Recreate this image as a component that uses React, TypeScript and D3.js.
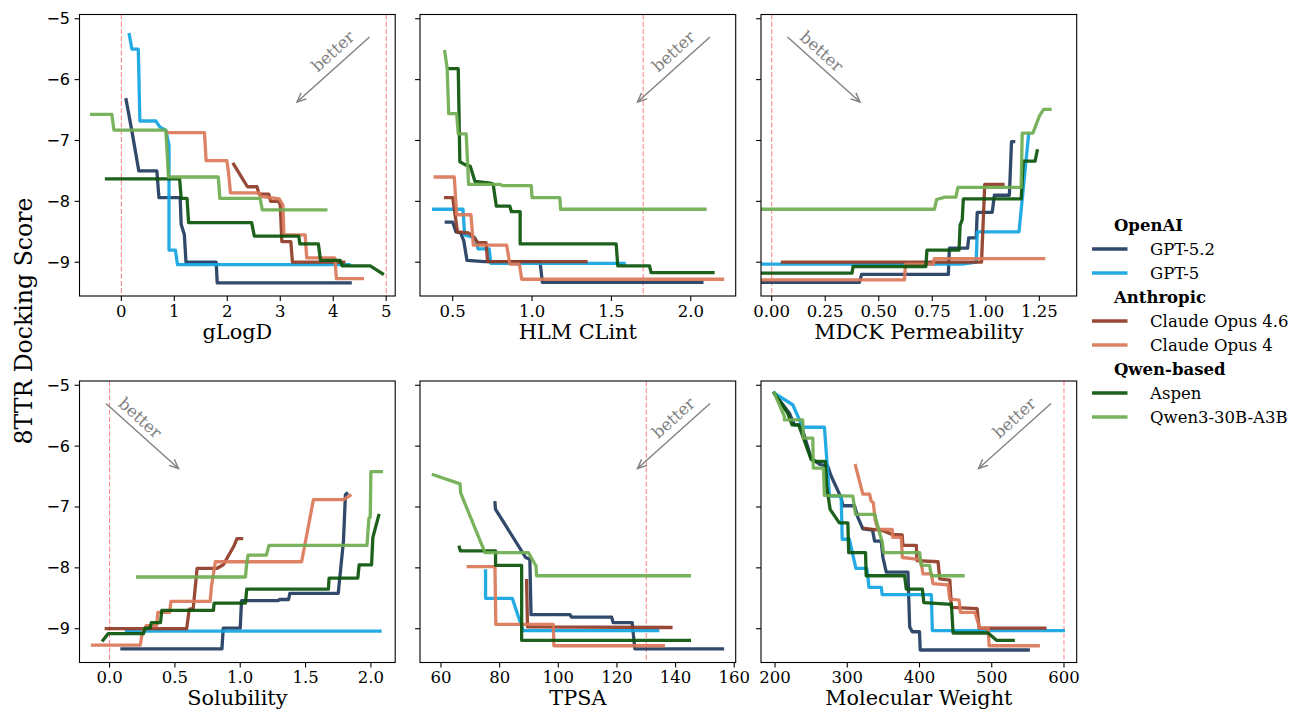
import React from 'react';
import * as d3 from 'd3';

type Pt = [number, number];

// ---------------- data ----------------
const SERIES_NAMES = ['GPT-5.2', 'GPT-5', 'Claude Opus 4.6', 'Claude Opus 4', 'Aspen', 'Qwen3-30B-A3B'];
const SERIES_COLORS = ['#1f3b5e', '#12a4e2', '#8f3b25', '#da7758', '#0a540a', '#6fac4f'];
const LEGEND_GROUPS = ['OpenAI', 'Anthropic', 'Qwen-based'];

const PANEL_LABELS = ['gLogD', 'HLM CLint', 'MDCK Permeability', 'Solubility', 'TPSA', 'Molecular Weight'];
const X_DOMAINS: Pt[] = [[-0.79, 5.17], [0.294, 2.283], [-0.05, 1.4245], [-0.23, 2.186], [52.84, 160.5], [180.6, 617.6]];
const X_TICKS = [[0, 1, 2, 3, 4, 5], [0.5, 1, 1.5, 2], [0, 0.25, 0.5, 0.75, 1, 1.25], [0, 0.5, 1, 1.5, 2], [60, 80, 100, 120, 140, 160], [200, 300, 400, 500, 600]];
const X_TICK_DECIMALS = [0, 1, 2, 1, 0, 0];
const THRESHOLDS = [[0, 5], [1.7], [0], [0], [130], [600]];
const BETTER_DIR = ['left', 'left', 'right', 'right', 'left', 'left'];
const Y_DOMAIN: Pt = [-9.555, -4.93];
const Y_TICKS = [-9, -8, -7, -6, -5];
const Y_LABEL = '8TTR Docking Score';

// gLogD
const glogdGpt52: Pt[] = [[0.09, -6.33], [0.2, -6.85], [0.33, -7.5], [0.67, -7.5], [0.71, -7.94], [1.11, -7.94], [1.13, -8.38], [1.19, -8.55], [1.22, -9.0], [1.79, -9.0], [1.81, -9.34], [4.32, -9.34]];
const glogdGpt5: Pt[] = [[0.15, -5.26], [0.2, -5.5], [0.32, -5.5], [0.35, -6.68], [0.65, -6.68], [0.73, -6.78], [0.84, -6.83], [0.9, -7.08], [0.9, -8.8], [1.02, -8.8], [1.06, -9.04], [4.3, -9.04]];
const glogdOpus46: Pt[] = [[2.12, -7.39], [2.38, -7.76], [2.56, -7.76], [2.6, -7.88], [2.78, -7.88], [2.82, -8.0], [2.97, -8.0], [3.0, -8.06], [3.03, -8.66], [3.2, -8.66], [3.23, -9.0], [4.2, -9.0]];
const glogdOpus4: Pt[] = [[0.86, -6.87], [1.57, -6.87], [1.6, -7.33], [1.99, -7.33], [2.02, -7.5], [2.06, -7.86], [2.6, -7.86], [2.63, -7.92], [2.98, -7.96], [3.05, -8.06], [3.07, -8.55], [3.47, -8.55], [3.5, -8.93], [4.03, -8.93], [4.06, -9.27], [4.55, -9.27]];
const glogdAspen: Pt[] = [[-0.28, -7.63], [1.1, -7.63], [1.13, -7.95], [1.24, -7.95], [1.27, -8.35], [2.46, -8.35], [2.51, -8.57], [3.35, -8.57], [3.37, -8.7], [3.72, -8.7], [3.76, -8.97], [4.13, -8.97], [4.17, -9.06], [4.7, -9.06], [4.93, -9.19]];
const glogdQwen: Pt[] = [[-0.56, -6.57], [-0.18, -6.57], [-0.14, -6.83], [0.84, -6.83], [0.89, -7.6], [1.83, -7.6], [1.86, -7.95], [2.62, -7.95], [2.66, -8.14], [3.86, -8.14]];

// HLM CLint
const hlmGpt52: Pt[] = [[0.46, -8.34], [0.5, -8.34], [0.52, -8.5], [0.55, -8.52], [0.57, -8.65], [0.59, -8.97], [0.7, -8.99], [1.05, -8.99], [1.065, -9.33], [2.07, -9.33]];
const hlmGpt5: Pt[] = [[0.38, -8.13], [0.565, -8.13], [0.575, -8.55], [0.64, -8.6], [0.66, -8.78], [0.73, -8.78], [0.74, -9.02], [1.58, -9.02]];
const hlmOpus46: Pt[] = [[0.455, -7.94], [0.5, -7.94], [0.53, -8.5], [0.6, -8.52], [0.63, -8.58], [0.66, -8.68], [0.71, -8.68], [0.72, -8.99], [1.34, -8.99]];
const hlmOpus4: Pt[] = [[0.39, -7.6], [0.51, -7.6], [0.525, -8.22], [0.615, -8.22], [0.63, -8.72], [0.84, -8.72], [0.86, -9.03], [0.92, -9.03], [0.935, -9.28], [2.2, -9.28]];
const hlmAspen: Pt[] = [[0.48, -5.82], [0.535, -5.82], [0.545, -7.35], [0.58, -7.4], [0.61, -7.42], [0.62, -7.5], [0.64, -7.67], [0.74, -7.7], [0.755, -7.72], [0.775, -8.08], [0.86, -8.08], [0.87, -8.17], [0.925, -8.17], [0.925, -8.7], [1.53, -8.7], [1.54, -9.06], [1.74, -9.06], [1.75, -9.17], [2.14, -9.17]];
const hlmQwen: Pt[] = [[0.45, -5.54], [0.465, -5.81], [0.475, -6.56], [0.525, -6.56], [0.535, -6.89], [0.585, -6.89], [0.6, -7.72], [0.8, -7.72], [0.81, -7.74], [0.995, -7.74], [1.0, -7.94], [1.175, -7.94], [1.18, -8.13], [2.09, -8.13]];

// MDCK Permeability
const mdckGpt52: Pt[] = [[-0.05, -9.33], [0.41, -9.33], [0.42, -9.2], [0.825, -9.2], [0.83, -8.77], [0.915, -8.77], [0.92, -8.6], [0.955, -8.6], [0.96, -8.18], [1.03, -8.18], [1.04, -7.9], [1.11, -7.9], [1.12, -7.02], [1.13, -7.02]];
const mdckGpt5: Pt[] = [[-0.05, -9.03], [0.89, -9.03], [0.955, -9.0], [0.96, -8.5], [1.155, -8.5], [1.2, -6.9]];
const mdckOpus46: Pt[] = [[0.05, -9.0], [0.98, -9.0], [0.995, -7.72], [1.08, -7.72]];
const mdckOpus4: Pt[] = [[-0.05, -9.29], [0.62, -9.29], [0.625, -9.03], [0.755, -9.03], [0.76, -8.94], [1.27, -8.94]];
const mdckAspen: Pt[] = [[-0.05, -9.18], [0.375, -9.18], [0.38, -9.07], [0.72, -9.07], [0.725, -8.8], [0.875, -8.8], [0.88, -8.39], [0.89, -8.3], [0.895, -7.96], [1.165, -7.96], [1.175, -7.34], [1.23, -7.34], [1.24, -7.17]];
const mdckQwen: Pt[] = [[-0.05, -8.13], [0.76, -8.13], [0.77, -7.97], [0.81, -7.93], [0.86, -7.93], [0.87, -7.77], [1.165, -7.77], [1.17, -6.88], [1.22, -6.88], [1.25, -6.6], [1.27, -6.49], [1.3, -6.49]];

// Solubility
const solGpt52: Pt[] = [[0.095, -9.33], [0.86, -9.33], [0.87, -8.99], [1.0, -8.99], [1.01, -8.54], [1.29, -8.54], [1.3, -8.52], [1.37, -8.52], [1.38, -8.42], [1.75, -8.42], [1.79, -7.56], [1.805, -6.8], [1.815, -6.78]];
const solGpt5: Pt[] = [[0.13, -9.04], [2.07, -9.04]];
const solOpus46: Pt[] = [[-0.025, -9.0], [0.59, -9.0], [0.61, -8.68], [0.64, -8.67], [0.67, -8.01], [0.82, -8.01], [0.87, -7.95], [0.95, -7.65], [0.975, -7.52], [1.01, -7.52]];
const solOpus4: Pt[] = [[-0.13, -9.27], [0.235, -9.27], [0.25, -9.07], [0.28, -8.95], [0.36, -8.95], [0.37, -8.73], [0.46, -8.73], [0.47, -8.55], [0.77, -8.55], [0.78, -8.3], [0.81, -7.9], [1.47, -7.9], [1.56, -6.88], [1.79, -6.88], [1.84, -6.81]];
const solAspen: Pt[] = [[-0.05, -9.19], [-0.01, -9.08], [0.26, -9.08], [0.27, -8.99], [0.31, -8.99], [0.32, -8.9], [0.39, -8.9], [0.4, -8.7], [0.795, -8.7], [0.8, -8.58], [1.04, -8.58], [1.05, -8.35], [1.675, -8.35], [1.68, -8.17], [1.9, -8.17], [1.91, -7.95], [2.005, -7.95], [2.015, -7.5], [2.06, -7.14]];
const solQwen: Pt[] = [[0.215, -8.15], [1.04, -8.15], [1.05, -7.92], [1.06, -7.79], [1.2, -7.79], [1.22, -7.63], [1.97, -7.63], [1.985, -7.18], [1.995, -7.17], [2.0, -6.42], [2.08, -6.42]];

// TPSA
const tpsaGpt52: Pt[] = [[78.4, -6.93], [78.6, -7.04], [88.9, -7.83], [90.3, -7.86], [90.7, -8.77], [104, -8.77], [104.5, -8.81], [118.2, -8.81], [118.7, -8.9], [125.2, -8.9], [126.1, -9.33], [156, -9.33]];
const tpsaGpt5: Pt[] = [[75.2, -8.05], [75.2, -8.5], [84.3, -8.5], [87, -8.89], [88.1, -9.03], [133.9, -9.03]];
const tpsaOpus46: Pt[] = [[89.2, -8.21], [89.5, -8.97], [138.4, -8.98]];
const tpsaOpus4: Pt[] = [[69.3, -7.98], [78.4, -7.98], [78.7, -8.93], [98.3, -8.93], [98.5, -9.28], [135.8, -9.28]];
const tpsaAspen: Pt[] = [[66.25, -7.66], [66.6, -7.72], [78.6, -7.72], [78.6, -7.96], [87.5, -7.96], [87.5, -9.19], [144.7, -9.19]];
const tpsaQwen: Pt[] = [[57.4, -6.47], [66.5, -6.62], [66.7, -6.77], [75, -7.75], [89.8, -7.75], [92.4, -7.97], [92.6, -8.13], [144.7, -8.13]];

// Molecular Weight
const mwGpt52: Pt[] = [[199, -5.13], [219.9, -5.46], [226.8, -5.65], [236, -5.65], [250, -6.2], [262, -6.3], [273, -6.33], [277.7, -6.49], [291.6, -6.85], [294, -6.98], [310, -6.98], [314.7, -7.17], [321.6, -7.36], [335, -7.38], [337.8, -7.56], [347, -7.56], [349.4, -7.83], [354, -8.07], [384, -8.07], [386.4, -8.97], [390, -9.05], [400, -9.05], [401, -9.35], [550.5, -9.35]];
const mwGpt5: Pt[] = [[199, -5.13], [224.5, -5.32], [238.4, -5.69], [268.4, -5.69], [275.4, -6.82], [291.6, -6.82], [293, -7.53], [303, -7.53], [308, -7.8], [312, -8.01], [327, -8.01], [329, -8.2], [330, -8.32], [347, -8.32], [348.4, -8.44], [416.4, -8.44], [417.8, -9.03], [599, -9.03]];
const mwOpus46: Pt[] = [[323.9, -7.35], [349.4, -7.39], [362.3, -7.45], [376, -7.46], [377.1, -7.63], [395.6, -7.63], [396.5, -7.88], [425.7, -7.9], [428, -8.18], [442, -8.2], [444.2, -8.65], [479.8, -8.67], [482.5, -8.99], [573.6, -8.99]];
const mwOpus4: Pt[] = [[311.4, -6.32], [321.6, -6.79], [330.9, -6.79], [333, -6.9], [336, -6.93], [339, -7.23], [342.4, -7.37], [362.3, -7.37], [363, -7.5], [374.8, -7.5], [376.2, -7.83], [400.2, -7.86], [402.5, -7.94], [404.9, -8.1], [416.4, -8.1], [418.7, -8.26], [439.5, -8.28], [441.8, -8.51], [454.8, -8.53], [456.6, -8.73], [476.5, -8.73], [483.4, -8.99], [495, -8.99], [496.4, -9.28], [564.4, -9.28]];
const mwAspen: Pt[] = [[199, -5.13], [217.6, -5.46], [223.6, -5.65], [232.8, -5.65], [250, -6.22], [254.5, -6.25], [269.8, -6.25], [271.5, -6.66], [276.3, -7.04], [289, -7.26], [300.8, -7.26], [302, -7.75], [325.3, -7.75], [326.2, -8.13], [379.4, -8.13], [381.7, -8.35], [404, -8.35], [406, -8.57], [444.2, -8.6], [446.5, -9.07], [495, -9.07], [506.6, -9.19], [529.7, -9.19]];
const mwQwen: Pt[] = [[199, -5.13], [213, -5.51], [213, -5.57], [238.4, -5.57], [239.3, -5.87], [252.3, -5.87], [253, -6.36], [267, -6.36], [268.4, -6.81], [307.7, -6.82], [311.4, -7.12], [337.8, -7.12], [348.4, -7.58], [350.3, -7.75], [400.2, -7.75], [402.5, -7.96], [414, -7.96], [416.4, -8.13], [460.3, -8.13]];

const PANEL_SERIES: Pt[][][] = [
  [glogdGpt52, glogdGpt5, glogdOpus46, glogdOpus4, glogdAspen, glogdQwen],
  [hlmGpt52, hlmGpt5, hlmOpus46, hlmOpus4, hlmAspen, hlmQwen],
  [mdckGpt52, mdckGpt5, mdckOpus46, mdckOpus4, mdckAspen, mdckQwen],
  [solGpt52, solGpt5, solOpus46, solOpus4, solAspen, solQwen],
  [tpsaGpt52, tpsaGpt5, tpsaOpus46, tpsaOpus4, tpsaAspen, tpsaQwen],
  [mwGpt52, mwGpt5, mwOpus46, mwOpus4, mwAspen, mwQwen],
];

// ---------------- layout ----------------
const W = 1290;
const H = 709;
const FONT = "'DejaVu Serif', 'Liberation Serif', serif";
const SANS = "'DejaVu Sans', sans-serif";
const COL_LEFT = [79.5, 420, 761];
const ROW_TOP = [14.5, 381];
const PW = 315.7;
const PH = 281.5;
const TICK_LEN = 4.9;

function arrowHead(x1: number, y1: number, x2: number, y2: number) {
  const ang = Math.atan2(y2 - y1, x2 - x1);
  const len = 10;
  const spread = 0.42;
  const a1 = ang + Math.PI - spread;
  const a2 = ang + Math.PI + spread;
  return `M${x2 + len * Math.cos(a1)},${y2 + len * Math.sin(a1)}L${x2},${y2}L${x2 + len * Math.cos(a2)},${y2 + len * Math.sin(a2)}`;
}

function Panel({ idx }: { idx: number }) {
  const col = idx % 3;
  const row = Math.floor(idx / 3);
  const left = COL_LEFT[col];
  const top = ROW_TOP[row];
  const x = d3.scaleLinear().domain(X_DOMAINS[idx]).range([left, left + PW]);
  const y = d3.scaleLinear().domain(Y_DOMAIN).range([top + PH, top]);
  const line = d3.line<Pt>().x((d) => x(d[0])).y((d) => y(d[1]));
  const fmt = d3.format(`.${X_TICK_DECIMALS[idx]}f`);
  const clipId = `clip${idx}`;

  // "better" annotation
  const dirLeft = BETTER_DIR[idx] === 'left';
  const sx = dirLeft ? left + 290 : left + 26.5;
  const sy = top + 22.5;
  const ex = dirLeft ? left + 217.5 : left + 99;
  const ey = top + 87.5;
  const tx = dirLeft ? left + 253.5 : left + 60.5;
  const ty = top + 37;
  const rot = dirLeft ? -42 : 42;

  return (
    <g>
      <defs>
        <clipPath id={clipId}>
          <rect x={left} y={top} width={PW} height={PH} />
        </clipPath>
      </defs>
      <g clipPath={`url(#${clipId})`}>
        {THRESHOLDS[idx].map((t, i) => (
          <line key={i} x1={x(t)} x2={x(t)} y1={top} y2={top + PH} stroke="#ff0000" strokeOpacity={0.5} strokeWidth={1} strokeDasharray="5,2.2" />
        ))}
        {PANEL_SERIES[idx].map((pts, si) => (
          <path key={si} d={line(pts) || ''} fill="none" stroke={SERIES_COLORS[si]} strokeWidth={3.3} strokeOpacity={0.92} strokeLinejoin="round" strokeLinecap="square" />
        ))}
      </g>
      {/* better arrow */}
      <line x1={sx} y1={sy} x2={ex} y2={ey} stroke="#808080" strokeWidth={1.4} />
      <path d={arrowHead(sx, sy, ex, ey)} fill="none" stroke="#808080" strokeWidth={1.4} />
      <text x={tx} y={ty} transform={`rotate(${rot},${tx},${ty})`} textAnchor="middle" dominantBaseline="central" fontFamily={FONT} fontSize={16.5} fill="#808080">better</text>
      {/* frame */}
      <rect x={left} y={top} width={PW} height={PH} fill="none" stroke="#000" strokeWidth={1.1} />
      {/* x ticks */}
      {X_TICKS[idx].map((t) => (
        <g key={t}>
          <line x1={x(t)} x2={x(t)} y1={top + PH} y2={top + PH + TICK_LEN} stroke="#000" strokeWidth={1.1} />
          <text x={x(t)} y={top + PH + 20.8} textAnchor="middle" fontFamily={FONT} fontSize={16.5} fill="#000">{fmt(t).replace('-', '\u2212')}</text>
        </g>
      ))}
      {/* y ticks */}
      {Y_TICKS.map((t) => (
        <g key={t}>
          <line x1={left - TICK_LEN} x2={left} y1={y(t)} y2={y(t)} stroke="#000" strokeWidth={1.1} />
          {col === 0 && (
            <text x={left - 9.5} y={y(t)} textAnchor="end" dominantBaseline="central" fontFamily={SANS} fontSize={16} fill="#000">{`\u2212${Math.abs(t)}`}</text>
          )}
        </g>
      ))}
      <text x={left + PW / 2} y={top + PH + 42.5} textAnchor="middle" fontFamily={FONT} fontSize={20.8} fill="#000">{PANEL_LABELS[idx]}</text>
    </g>
  );
}

function Legend() {
  const rows: { kind: 'head' | 'item'; label: string; color?: string }[] = [];
  LEGEND_GROUPS.forEach((g, gi) => {
    rows.push({ kind: 'head', label: g });
    for (let k = 0; k < 2; k++) {
      const si = gi * 2 + k;
      rows.push({ kind: 'item', label: SERIES_NAMES[si], color: SERIES_COLORS[si] });
    }
  });
  const y0 = 225;
  const step = 24;
  return (
    <g>
      {rows.map((r, i) => {
        const yy = y0 + i * step;
        if (r.kind === 'head') {
          return (
            <text key={i} x={1114} y={yy} dominantBaseline="central" fontFamily={FONT} fontWeight="bold" fontSize={16.5} fill="#000">{r.label}</text>
          );
        }
        return (
          <g key={i}>
            <line x1={1092} x2={1127.5} y1={yy} y2={yy} stroke={r.color} strokeWidth={3.3} strokeOpacity={0.92} />
            <text x={1150} y={yy} dominantBaseline="central" fontFamily={FONT} fontSize={16.5} fill="#000">{r.label}</text>
          </g>
        );
      })}
    </g>
  );
}

export default function App() {
  return (
    <svg width={W} height={H} style={{ position: 'absolute', left: 0, top: 0, background: '#fff' }}>
      <rect x={0} y={0} width={W} height={H} fill="#fff" />
      {PANEL_LABELS.map((_, i) => (
        <Panel key={i} idx={i} />
      ))}
      <text x={31.5} y={321} transform="rotate(-90,31.5,321)" textAnchor="middle" fontFamily={FONT} fontSize={23.6} fill="#000">{Y_LABEL}</text>
      <Legend />
    </svg>
  );
}
